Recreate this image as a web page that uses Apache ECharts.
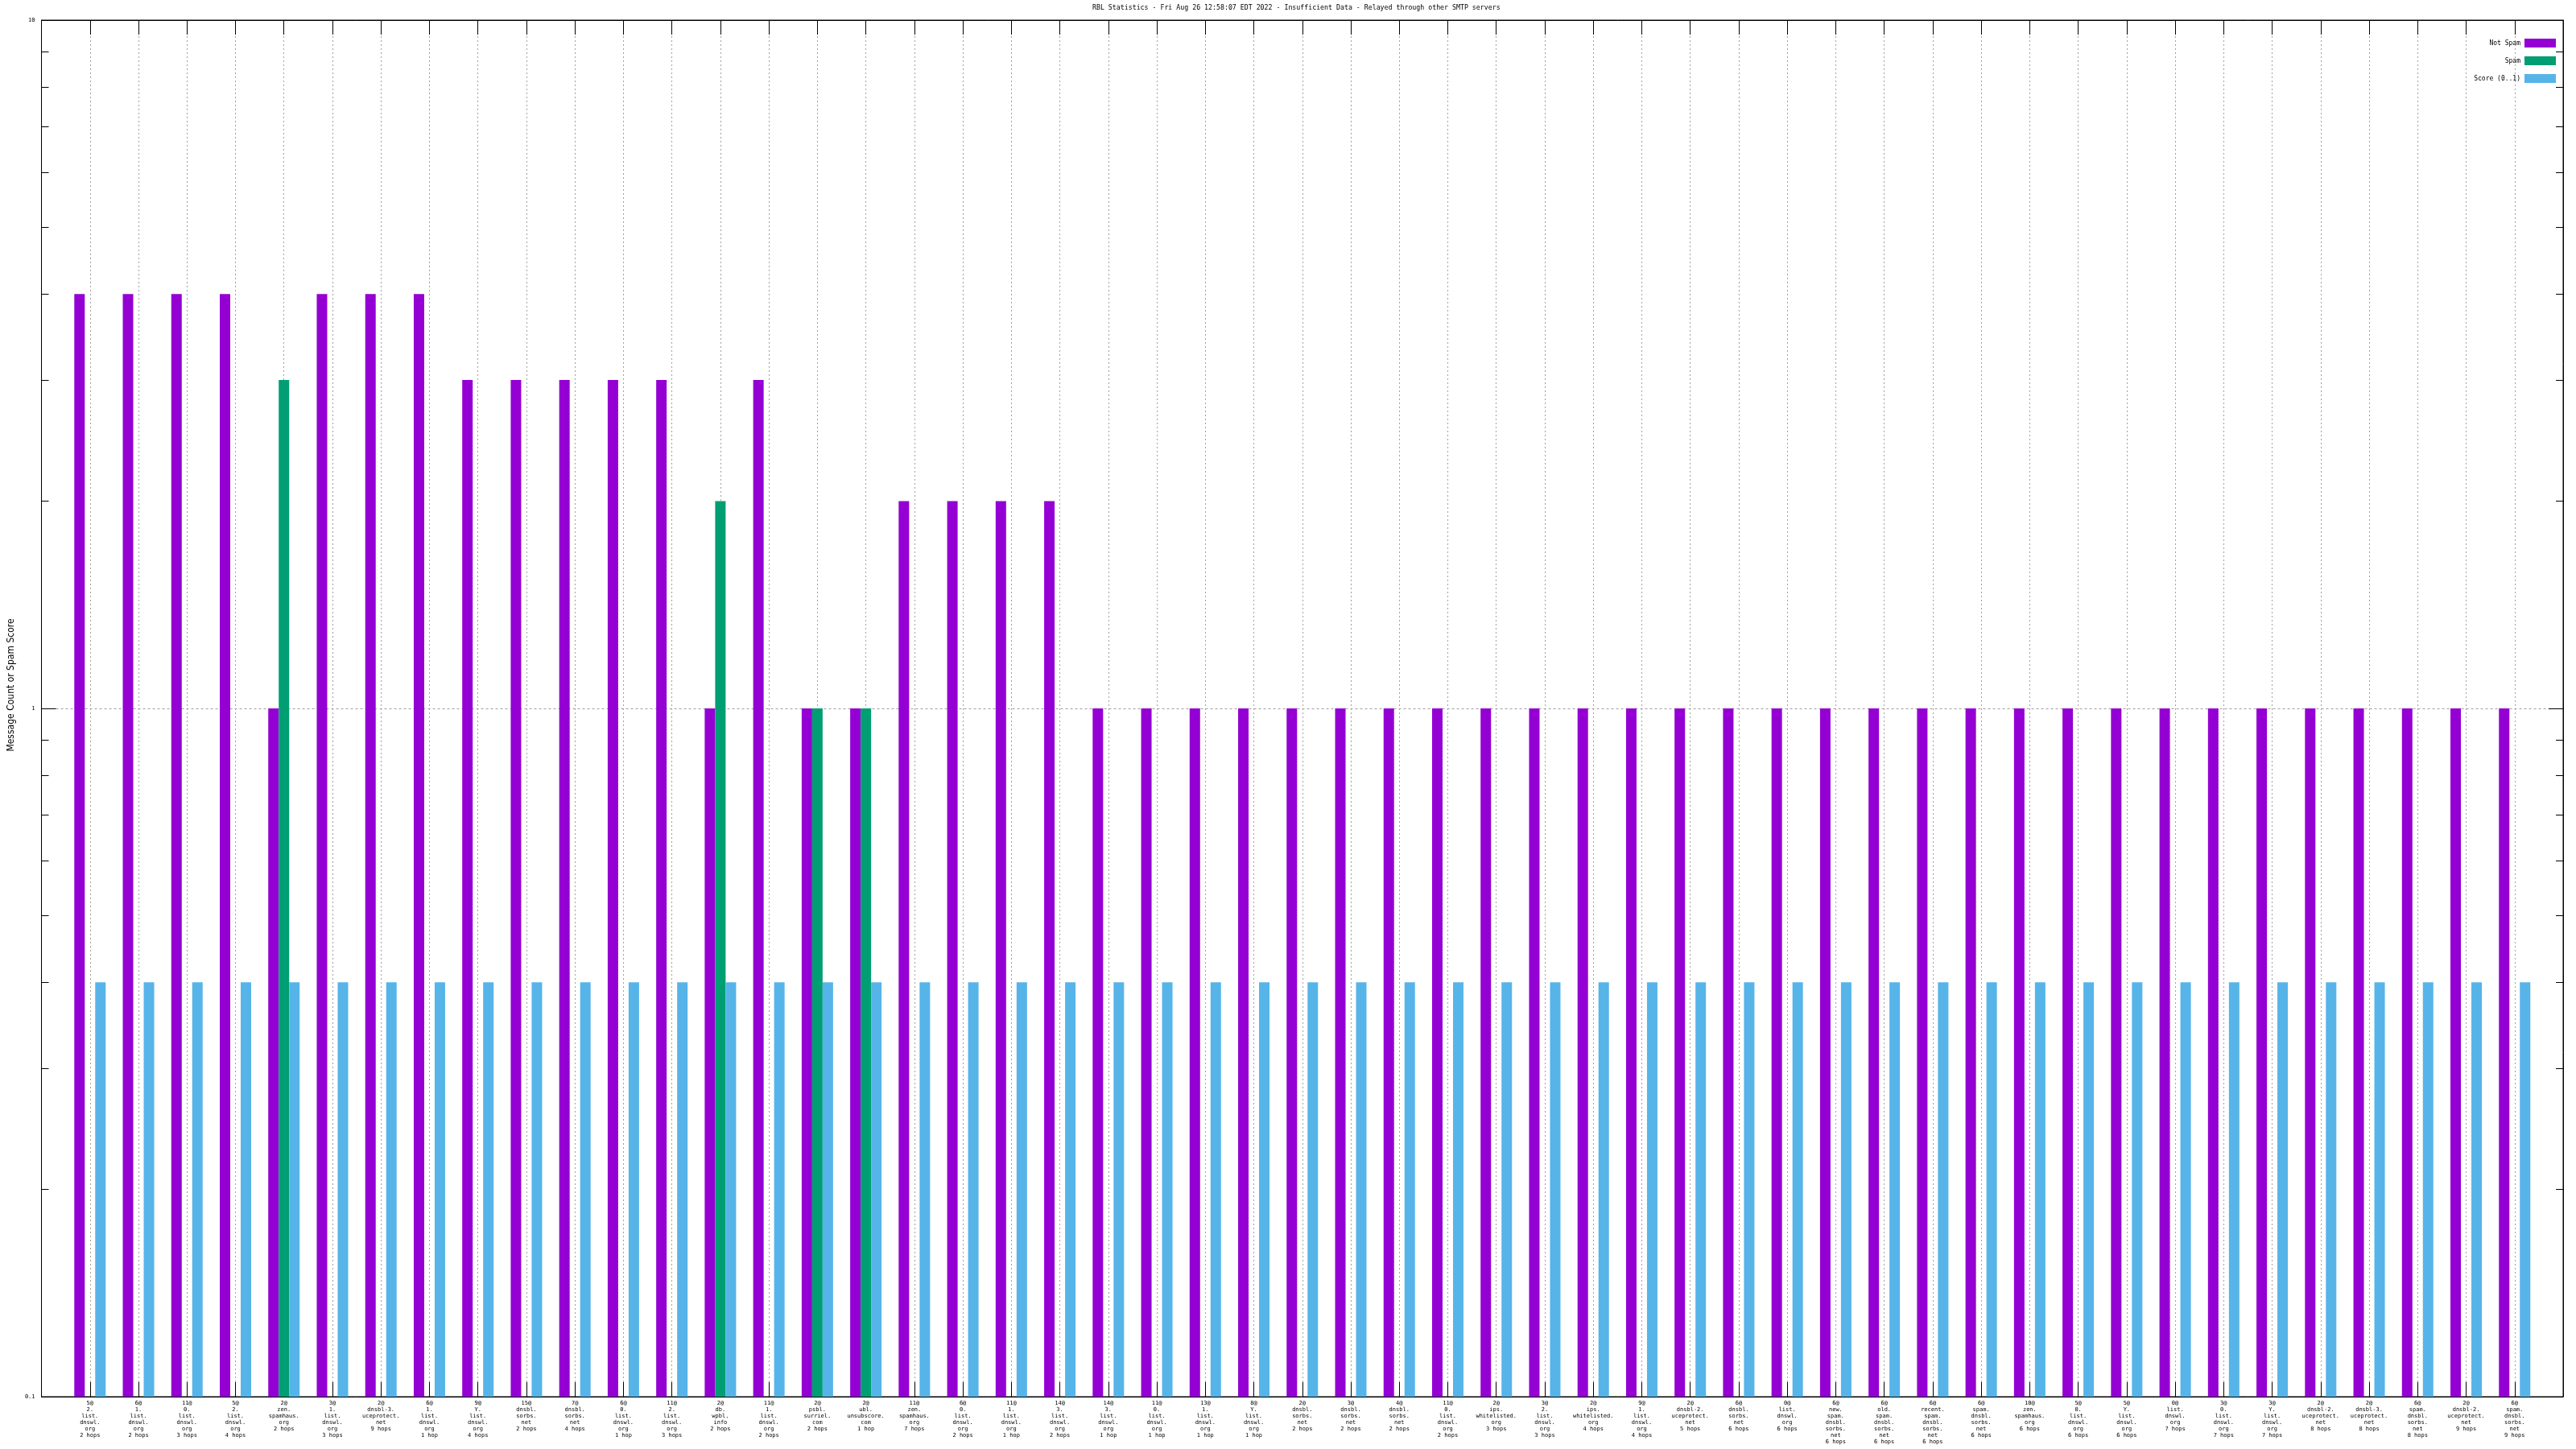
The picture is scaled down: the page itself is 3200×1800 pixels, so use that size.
<!DOCTYPE html>
<html>
<head>
<meta charset="utf-8">
<script src="https://cdn.jsdelivr.net/npm/echarts@6/dist/echarts.min.js"></script>
<style>html,body{margin:0;padding:0;background:#fff}#c{width:3200px;height:1800px}</style>
</head>
<body>
<div id="c"></div>
<script>
const titleText = "RBL Statistics - Fri Aug 26 12:58:07 EDT 2022 - Insufficient Data - Relayed through other SMTP servers";
const yAxisName = "Message Count or Spam Score";
const seriesNames = ["Not Spam", "Spam", "Score (0..1)"];
const seriesColors = ["#9400d3", "#009e73", "#56b4e9"];

const categories = [
  "5@\n2.\nlist.\ndnswl.\norg\n2 hops",
  "6@\n1.\nlist.\ndnswl.\norg\n2 hops",
  "11@\n0.\nlist.\ndnswl.\norg\n3 hops",
  "5@\n2.\nlist.\ndnswl.\norg\n4 hops",
  "2@\nzen.\nspamhaus.\norg\n2 hops",
  "3@\n1.\nlist.\ndnswl.\norg\n3 hops",
  "2@\ndnsbl-3.\nuceprotect.\nnet\n9 hops",
  "6@\n1.\nlist.\ndnswl.\norg\n1 hop",
  "9@\nY.\nlist.\ndnswl.\norg\n4 hops",
  "15@\ndnsbl.\nsorbs.\nnet\n2 hops",
  "7@\ndnsbl.\nsorbs.\nnet\n4 hops",
  "6@\n0.\nlist.\ndnswl.\norg\n1 hop",
  "11@\n2.\nlist.\ndnswl.\norg\n3 hops",
  "2@\ndb.\nwpbl.\ninfo\n2 hops",
  "11@\n1.\nlist.\ndnswl.\norg\n2 hops",
  "2@\npsbl.\nsurriel.\ncom\n2 hops",
  "2@\nubl.\nunsubscore.\ncom\n1 hop",
  "11@\nzen.\nspamhaus.\norg\n7 hops",
  "6@\n0.\nlist.\ndnswl.\norg\n2 hops",
  "11@\n1.\nlist.\ndnswl.\norg\n1 hop",
  "14@\n3.\nlist.\ndnswl.\norg\n2 hops",
  "14@\n3.\nlist.\ndnswl.\norg\n1 hop",
  "11@\n0.\nlist.\ndnswl.\norg\n1 hop",
  "13@\n1.\nlist.\ndnswl.\norg\n1 hop",
  "8@\nY.\nlist.\ndnswl.\norg\n1 hop",
  "2@\ndnsbl.\nsorbs.\nnet\n2 hops",
  "3@\ndnsbl.\nsorbs.\nnet\n2 hops",
  "4@\ndnsbl.\nsorbs.\nnet\n2 hops",
  "11@\n0.\nlist.\ndnswl.\norg\n2 hops",
  "2@\nips.\nwhitelisted.\norg\n3 hops",
  "3@\n2.\nlist.\ndnswl.\norg\n3 hops",
  "2@\nips.\nwhitelisted.\norg\n4 hops",
  "9@\n1.\nlist.\ndnswl.\norg\n4 hops",
  "2@\ndnsbl-2.\nuceprotect.\nnet\n5 hops",
  "6@\ndnsbl.\nsorbs.\nnet\n6 hops",
  "0@\nlist.\ndnswl.\norg\n6 hops",
  "6@\nnew.\nspam.\ndnsbl.\nsorbs.\nnet\n6 hops",
  "6@\nold.\nspam.\ndnsbl.\nsorbs.\nnet\n6 hops",
  "6@\nrecent.\nspam.\ndnsbl.\nsorbs.\nnet\n6 hops",
  "6@\nspam.\ndnsbl.\nsorbs.\nnet\n6 hops",
  "10@\nzen.\nspamhaus.\norg\n6 hops",
  "5@\n0.\nlist.\ndnswl.\norg\n6 hops",
  "5@\nY.\nlist.\ndnswl.\norg\n6 hops",
  "0@\nlist.\ndnswl.\norg\n7 hops",
  "3@\n0.\nlist.\ndnswl.\norg\n7 hops",
  "3@\nY.\nlist.\ndnswl.\norg\n7 hops",
  "2@\ndnsbl-2.\nuceprotect.\nnet\n8 hops",
  "2@\ndnsbl-3.\nuceprotect.\nnet\n8 hops",
  "6@\nspam.\ndnsbl.\nsorbs.\nnet\n8 hops",
  "2@\ndnsbl-2.\nuceprotect.\nnet\n9 hops",
  "6@\nspam.\ndnsbl.\nsorbs.\nnet\n9 hops"
];

const notSpam = [4,4,4,4,1,4,4,4,3,3,3,3,3,1,3,1,1,2,2,2,2,
  1,1,1,1,1,1,1,1,1,1,1,1,1,1,1,1,1,1,1,1,1,1,1,1,1,1,1,1,1,1];
const spam = [null,null,null,null,3,null,null,null,null,null,null,null,null,2,null,1,1,null,null,null,null,
  null,null,null,null,null,null,null,null,null,null,null,null,null,null,null,null,null,null,null,null,null,null,null,null,null,null,null,null,null,null];
const score = [0.4,0.4,0.4,0.4,0.4,0.4,0.4,0.4,0.4,0.4,0.4,0.4,0.4,0.4,0.4,0.4,0.4,0.4,0.4,0.4,0.4,
  0.4,0.4,0.4,0.4,0.4,0.4,0.4,0.4,0.4,0.4,0.4,0.4,0.4,0.4,0.4,0.4,0.4,0.4,0.4,0.4,0.4,0.4,0.4,0.4,0.4,0.4,0.4,0.4,0.4,0.4];

const yMin = 0.1, yMax = 10;
const yMajorTicks = [0.1, 1, 10];
const yMinorTicks = [0.2,0.3,0.4,0.5,0.6,0.7,0.8,0.9,2,3,4,5,6,7,8,9];

// x range is padded by one empty slot on each side (like gnuplot's [-1:N])
const xCats = [''].concat(categories, ['']);
const pad = arr => ['-'].concat(arr.map(v => v == null ? '-' : v), ['-']);

const mono = 'DejaVu Sans Mono';
const gridColor = '#a0a0a0';

function yAxisDef(position, ticks, len, extra) {
  return Object.assign({
    type: 'log', logBase: 10, min: yMin, max: yMax, position: position,
    axisLine: { show: true, lineStyle: { color: '#000', width: 1 } },
    axisTick: { show: true, inside: true, length: len, customValues: ticks, lineStyle: { color: '#000', width: 1 } },
    axisLabel: { show: false },
    splitLine: { show: false },
    minorTick: { show: false }
  }, extra || {});
}

const chart = echarts.init(document.getElementById('c'), null, { renderer: 'canvas' });
chart.setOption({
  animation: false,
  backgroundColor: '#fff',
  title: {
    text: titleText, left: 1357, top: 6, padding: 0,
    textStyle: { fontFamily: mono, fontSize: 8.25, fontWeight: 'normal', color: '#000' }
  },
  legend: {
    orient: 'vertical', right: 20, top: 43, align: 'right',
    itemWidth: 39, itemHeight: 11, itemGap: 11,
    icon: 'rect',
    textStyle: { fontFamily: mono, fontSize: 8, color: '#000' },
    data: seriesNames
  },
  grid: { left: 41, right: 16, top: 25, bottom: 65, containLabel: false,
    show: true, borderColor: '#000', borderWidth: 1 },
  xAxis: [{
    type: 'category', data: xCats, boundaryGap: false, position: 'bottom',
    axisLine: { onZero: false, lineStyle: { color: '#000', width: 1 } },
    axisTick: { show: true, inside: true, length: 18, interval: 0, lineStyle: { color: '#000' } },
    axisLabel: { interval: 0, margin: 4, fontFamily: mono, fontSize: 7, lineHeight: 8, color: '#000', align: 'center' },
    splitLine: { show: true, interval: 0, lineStyle: { color: gridColor, type: [2, 3], width: 1 } }
  }, {
    type: 'category', data: xCats, boundaryGap: false, position: 'top',
    axisLine: { onZero: false, lineStyle: { color: '#000', width: 1 } },
    axisTick: { show: true, inside: true, length: 18, interval: 0, lineStyle: { color: '#000' } },
    axisLabel: { show: false },
    splitLine: { show: false }
  }],
  yAxis: [
    yAxisDef('left', yMajorTicks, 18, {
      startValue: yMin,
      name: yAxisName, nameLocation: 'middle', nameGap: 28, nameRotate: 90,
      nameTextStyle: { fontFamily: 'DejaVu Sans Condensed, DejaVu Sans', fontSize: 12, color: '#000', padding: [0, 0, 0, 58] },
      axisLabel: { show: true, customValues: yMajorTicks, margin: 8, fontFamily: mono, fontSize: 7, color: '#000',
        formatter: v => String(v) },
      splitLine: { show: true, lineStyle: { color: gridColor, type: [3, 3], width: 1 } }
    }),
    yAxisDef('left', yMinorTicks, 9, { axisLine: { show: false } }),
    yAxisDef('right', yMajorTicks, 18),
    yAxisDef('right', yMinorTicks, 9, { axisLine: { show: false } })
  ],
  series: [
    { name: seriesNames[0], type: 'bar', data: pad(notSpam), xAxisIndex: 0, yAxisIndex: 0,
      barWidth: 13, barGap: '0%', itemStyle: { color: seriesColors[0] } },
    { name: seriesNames[1], type: 'bar', data: pad(spam), xAxisIndex: 0, yAxisIndex: 0,
      barWidth: 13, barGap: '0%', itemStyle: { color: seriesColors[1] } },
    { name: seriesNames[2], type: 'bar', data: pad(score), xAxisIndex: 0, yAxisIndex: 0,
      barWidth: 13, barGap: '0%', itemStyle: { color: seriesColors[2] } }
  ]
});
</script>
</body>
</html>
